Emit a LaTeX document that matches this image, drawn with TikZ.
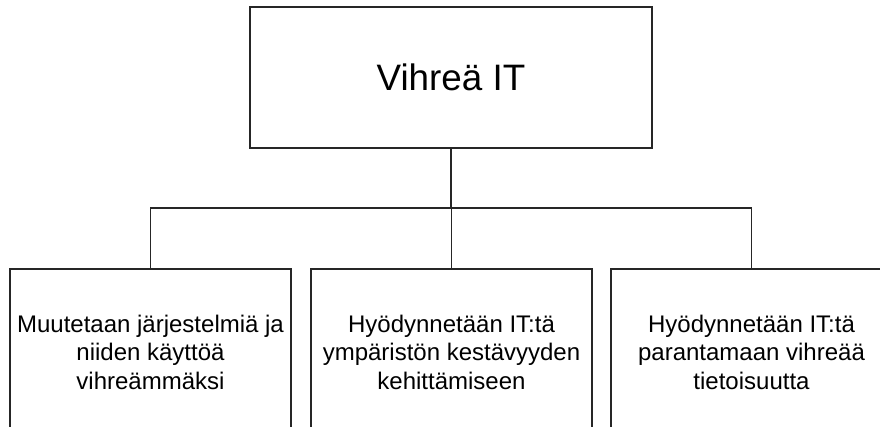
\documentclass[tikz,border=0pt]{standalone}
\usepackage{fontspec}
\setmainfont{Liberation Sans}
\begin{document}
\begin{tikzpicture}[x=1pt,y=-1pt,
  box/.style={draw=black!85,line width=1.6pt,fill=white,inner sep=0pt,align=center},
  topbox/.style={box,minimum width=402pt,minimum height=141pt,font=\fontsize{36.8}{42}\selectfont},
  subbox/.style={box,minimum width=281pt,minimum height=166pt,font=\fontsize{24}{28.5}\selectfont},
  conn/.style={draw=black!85,line width=1.6pt}]
\useasboundingbox (0,0) rectangle (880,427);
\clip (0,0) rectangle (880,427);
\node[topbox] (top) at (451,77.5) {Vihreä IT};
\node[subbox] (b1) at (150.5,352) {Muutetaan järjestelmiä ja\\niiden käyttöä\\vihreämmäksi};
\node[subbox] (b2) at (451.5,352) {Hyödynnetään IT:tä\\ympäristön kestävyyden\\kehittämiseen};
\node[subbox] (b3) at (751.5,352) {Hyödynnetään IT:tä\\parantamaan vihreää\\tietoisuutta};
\coordinate (j) at (451,208);
\draw[conn] (top.south) -- (j);
\draw[conn] (j) -| (b1.north);
\draw[conn] (j) -| (b2.north);
\draw[conn] (j) -| (b3.north);
\end{tikzpicture}
\end{document}
